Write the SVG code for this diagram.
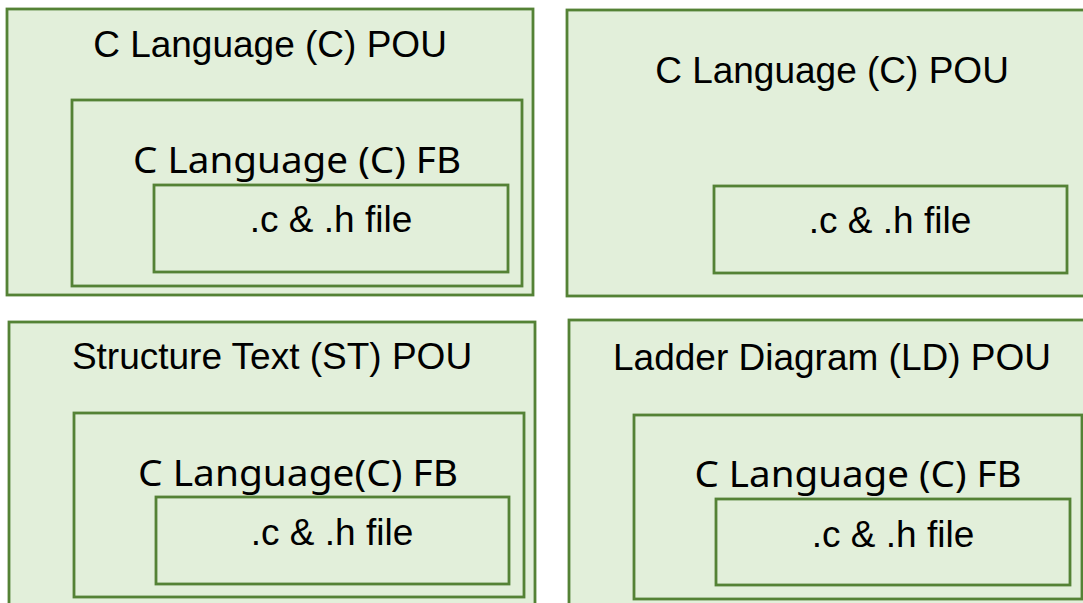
<svg xmlns="http://www.w3.org/2000/svg" width="1083" height="603" viewBox="0 0 1083 603">
  <style>
    .box { fill: #E2EFDA; stroke: #548235; stroke-width: 2.8; }
    .t { font-family: "Liberation Sans", Arial, sans-serif; font-size: 37px; fill: #000; text-anchor: middle; }
    .fb { font-family: "Noto Sans", "Open Sans", sans-serif; font-size: 36px; fill: #000; text-anchor: middle; }
  </style>
  <rect width="1083" height="603" fill="#FFFFFF"/>

  <g id="pou-c-fb">
    <rect class="box" x="7" y="9" width="526" height="286"/>
    <text class="t" x="270" y="57">C Language (C) POU</text>
    <g id="pou-c-fb-fb">
      <rect class="box" x="72" y="100" width="450" height="186"/>
      <text class="fb" x="297" y="173" textLength="328" lengthAdjust="spacingAndGlyphs">C Language (C) FB</text>
      <g id="pou-c-fb-file">
        <rect class="box" x="154" y="185" width="354" height="87"/>
        <text class="t" x="331" y="232">.c &amp; .h file</text>
      </g>
    </g>
  </g>

  <g id="pou-c">
    <rect class="box" x="567" y="10" width="531" height="286"/>
    <text class="t" x="832" y="83">C Language (C) POU</text>
    <g id="pou-c-file">
      <rect class="box" x="714" y="186" width="353" height="87"/>
      <text class="t" x="890" y="233">.c &amp; .h file</text>
    </g>
  </g>

  <g id="pou-st">
    <rect class="box" x="9" y="322" width="526" height="300"/>
    <text class="t" x="272" y="369">Structure Text (ST) POU</text>
    <g id="pou-st-fb">
      <rect class="box" x="74" y="413" width="450" height="184"/>
      <text class="fb" x="298" y="486" textLength="320" lengthAdjust="spacingAndGlyphs">C Language(C) FB</text>
      <g id="pou-st-file">
        <rect class="box" x="156" y="497" width="353" height="87"/>
        <text class="t" x="332" y="545">.c &amp; .h file</text>
      </g>
    </g>
  </g>

  <g id="pou-ld">
    <rect class="box" x="569" y="320" width="530" height="300"/>
    <text class="t" x="832" y="370">Ladder Diagram (LD) POU</text>
    <g id="pou-ld-fb">
      <rect class="box" x="634" y="415" width="448" height="184"/>
      <text class="fb" x="858" y="487" textLength="327" lengthAdjust="spacingAndGlyphs">C Language (C) FB</text>
      <g id="pou-ld-file">
        <rect class="box" x="716" y="499" width="354" height="86"/>
        <text class="t" x="893" y="547">.c &amp; .h file</text>
      </g>
    </g>
  </g>

  <g id="connectors"/>
</svg>
